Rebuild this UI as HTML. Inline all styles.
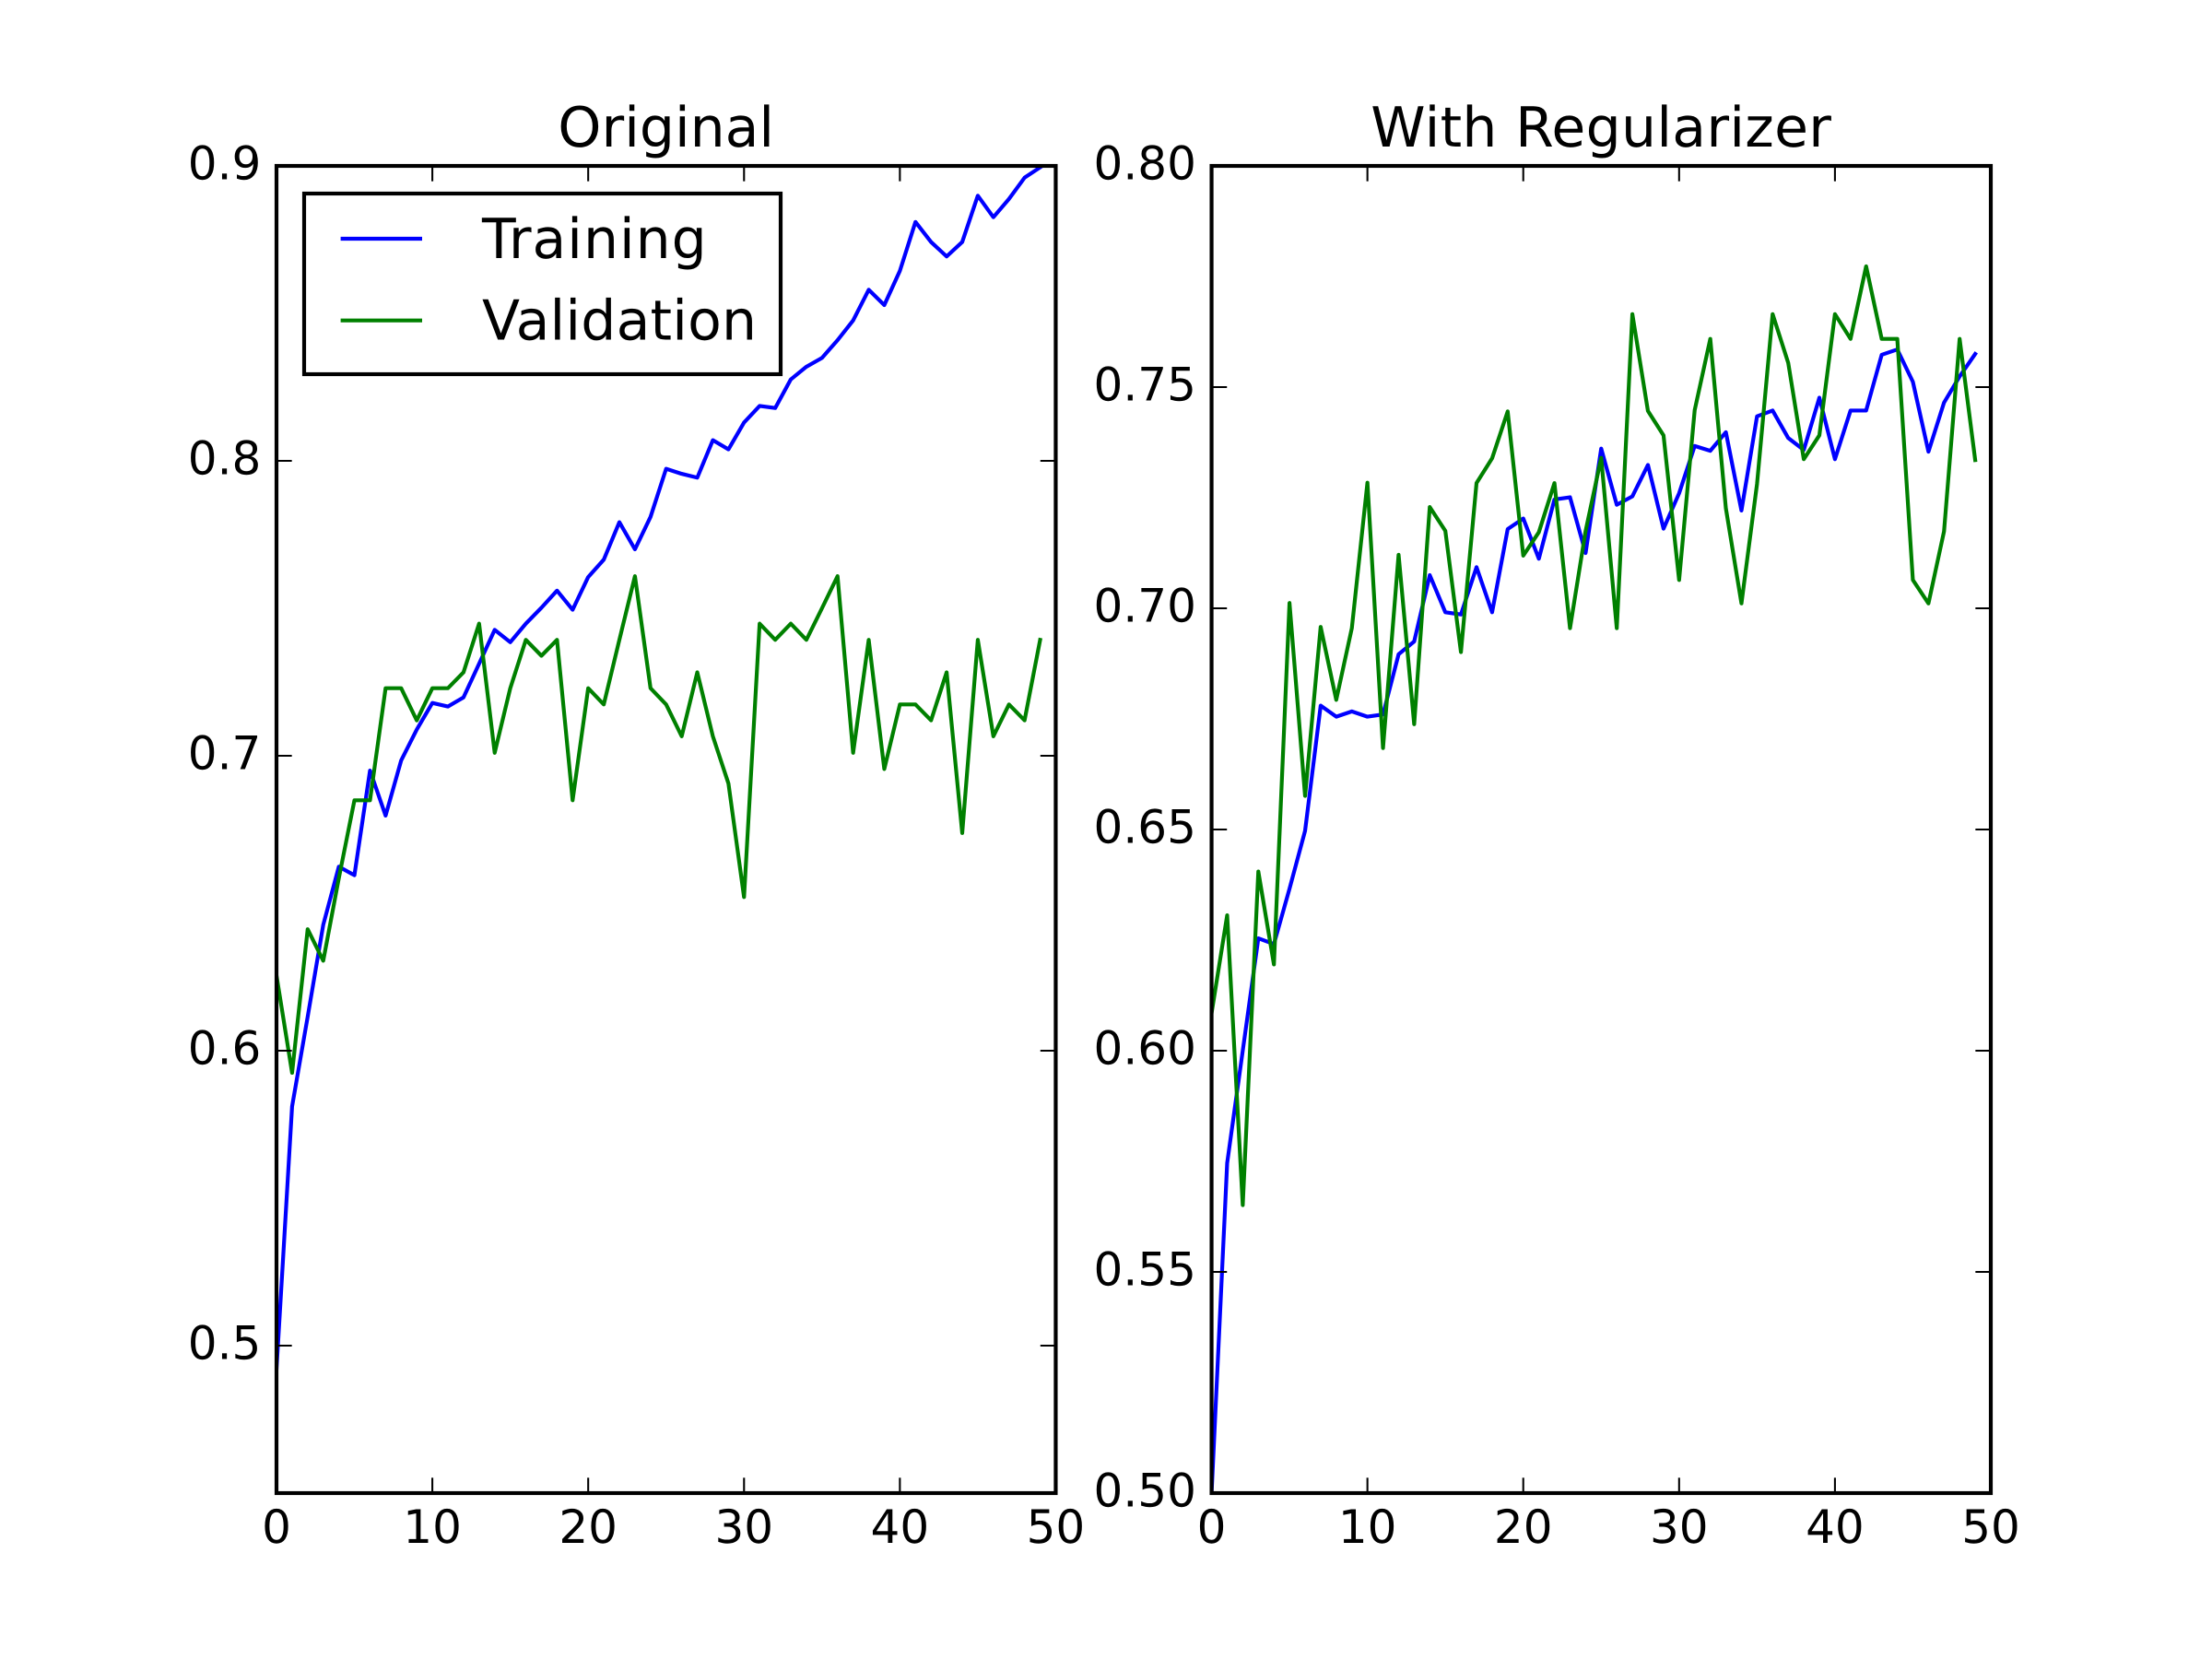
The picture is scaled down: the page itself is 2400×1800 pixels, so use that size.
<!DOCTYPE html>
<html lang="en">
<head>
<meta charset="utf-8">
<title>Original vs With Regularizer</title>
<style>
html,body{margin:0;padding:0;background:#fff;width:2400px;height:1800px;overflow:hidden}
svg{display:block}
text{font-family:"DejaVu Sans",sans-serif;fill:#000;text-rendering:geometricPrecision}
.title,.legend-text{font-size:60px}
.tick-label{font-size:50px}
</style>
</head>
<body>
<svg id="figure" xmlns="http://www.w3.org/2000/svg" width="2400" height="1800" viewBox="0 0 2400 1800">
  <rect x="0" y="0" width="2400" height="1800" fill="#fff"/>
  <defs>
    <clipPath id="clip-left"><rect x="300" y="180" width="845.45" height="1440"/></clipPath>
    <clipPath id="clip-right"><rect x="1314.55" y="180" width="845.45" height="1440"/></clipPath>
  </defs>
  <g id="panel-left"></g>
  <g id="panel-right"></g>
  <text class="title" x="722.7" y="159" text-anchor="middle">Original</text>
  <text class="title" x="1737.3" y="159" text-anchor="middle" letter-spacing="0.3">With Regularizer</text>
  <g>
    <rect x="330" y="210" width="517" height="196" fill="#fff" stroke="#000" stroke-width="4.17"/>
    <line x1="369.6" y1="259" x2="458" y2="259" stroke="#0000ff" stroke-width="4.17"/>
    <text class="legend-text" x="523" y="280" letter-spacing="1">Training</text>
    <line x1="369.6" y1="347.7" x2="458" y2="347.7" stroke="#008000" stroke-width="4.17"/>
    <text class="legend-text" x="523" y="368.7" letter-spacing="0.2">Validation</text>
  </g>
</svg>
<script>
const xTicks = [0, 10, 20, 30, 40, 50];
const xTickLabels = ["0", "10", "20", "30", "40", "50"];
const xDomain = [0, 50];

const originalYDomain = [0.45, 0.9];
const originalYTicks = [0.5, 0.6, 0.7, 0.8, 0.9];
const originalYTickLabels = ["0.5", "0.6", "0.7", "0.8", "0.9"];
const originalTraining = [0.492,0.5811,0.6115,0.6427,0.6624,0.6595,0.695,0.6797,0.6984,0.7089,0.7179,0.7167,0.7198,0.7312,0.7427,0.7385,0.7448,0.7502,0.756,0.7495,0.7606,0.7665,0.7792,0.77,0.781,0.7973,0.7956,0.7943,0.807,0.8039,0.813,0.8186,0.8179,0.8276,0.8319,0.8349,0.8409,0.8476,0.858,0.8528,0.8644,0.881,0.8742,0.8693,0.8742,0.8899,0.8826,0.8888,0.896,0.8995];
const originalValidation = [0.6255,0.5925,0.6412,0.6305,0.6585,0.6849,0.6849,0.7229,0.7229,0.712,0.7229,0.7229,0.7283,0.7448,0.701,0.7229,0.7393,0.7339,0.7393,0.6849,0.7229,0.7174,0.7393,0.7609,0.7229,0.7174,0.7066,0.7283,0.7066,0.6906,0.6521,0.7448,0.7393,0.7448,0.7393,0.75,0.7609,0.701,0.7393,0.6955,0.7174,0.7174,0.712,0.7283,0.6738,0.7393,0.7066,0.7174,0.712,0.7393];

const regularizedYDomain = [0.5, 0.8];
const regularizedYTicks = [0.5, 0.55, 0.6, 0.65, 0.7, 0.75, 0.8];
const regularizedYTickLabels = ["0.50", "0.55", "0.60", "0.65", "0.70", "0.75", "0.80"];
const regularizedTraining = [0.5,0.5746,0.6,0.6254,0.6241,0.6366,0.6497,0.678,0.6755,0.6767,0.6755,0.676,0.6896,0.6925,0.7075,0.6991,0.6986,0.7093,0.6991,0.7179,0.7203,0.7112,0.7246,0.7251,0.7125,0.7361,0.7234,0.7253,0.7324,0.718,0.726,0.7367,0.7356,0.7398,0.7221,0.7434,0.7447,0.7385,0.7358,0.7476,0.7337,0.7447,0.7447,0.7573,0.7585,0.7512,0.7354,0.7465,0.7524,0.7575];
const regularizedValidation = [0.6085,0.6306,0.5651,0.6405,0.6195,0.7012,0.6576,0.6958,0.6793,0.6955,0.7284,0.6684,0.7121,0.6738,0.7229,0.7175,0.6901,0.7283,0.7339,0.7445,0.7119,0.7172,0.7283,0.6955,0.7175,0.734,0.6955,0.7665,0.7446,0.7391,0.7064,0.7448,0.7609,0.7226,0.7011,0.7281,0.7665,0.7555,0.7337,0.7391,0.7665,0.7609,0.7773,0.7609,0.7609,0.7064,0.7011,0.7174,0.7609,0.7335];

const NS = "http://www.w3.org/2000/svg";
const TOP = 180, BOTTOM = 1620, TICK = 16.67, PAD = 16.67;

function drawPanel(groupId, clipId, left, right, yDomain, yTicks, yLabels, training, validation) {
  const g = document.getElementById(groupId);
  const sx = v => left + (v - xDomain[0]) / (xDomain[1] - xDomain[0]) * (right - left);
  const sy = v => BOTTOM - (v - yDomain[0]) / (yDomain[1] - yDomain[0]) * (BOTTOM - TOP);

  const plotLine = (values, color, name) => {
    const p = document.createElementNS(NS, "polyline");
    p.setAttribute("points", values.map((v, i) => sx(i).toFixed(2) + "," + sy(v).toFixed(2)).join(" "));
    p.setAttribute("fill", "none");
    p.setAttribute("stroke", color);
    p.setAttribute("stroke-width", "4.17");
    p.setAttribute("stroke-linejoin", "round");
    p.setAttribute("stroke-linecap", "square");
    p.setAttribute("clip-path", "url(#" + clipId + ")");
    
    
    g.appendChild(p);
  };
  plotLine(training, "#0000ff", "training-line");
  plotLine(validation, "#008000", "validation-line");

  const tickMark = (x1, y1, x2, y2, name) => {
    const l = document.createElementNS(NS, "line");
    l.setAttribute("x1", x1);
    l.setAttribute("y1", y1);
    l.setAttribute("x2", x2);
    l.setAttribute("y2", y2);
    l.setAttribute("stroke", "#000");
    l.setAttribute("stroke-width", "2.08");
    
    
    g.appendChild(l);
  };

  xTicks.forEach((t, i) => {
    const x = sx(t);
    tickMark(x, BOTTOM, x, BOTTOM - TICK, "x-tick-bottom");
    tickMark(x, TOP, x, TOP + TICK, "x-tick-top");
    const label = document.createElementNS(NS, "text");
    label.setAttribute("class", "tick-label");
    label.setAttribute("x", x);
    label.setAttribute("y", 1674);
    label.setAttribute("text-anchor", "middle");
    
    
    label.textContent = xTickLabels[i];
    g.appendChild(label);
  });

  yTicks.forEach((t, i) => {
    const y = sy(t);
    tickMark(left, y, left + TICK, y, "y-tick-left");
    tickMark(right, y, right - TICK, y, "y-tick-right");
    const label = document.createElementNS(NS, "text");
    label.setAttribute("class", "tick-label");
    label.setAttribute("x", left - PAD);
    label.setAttribute("y", y + 14.5);
    label.setAttribute("text-anchor", "end");
    
    
    label.textContent = yLabels[i];
    g.appendChild(label);
  });

  const frame = document.createElementNS(NS, "rect");
  frame.setAttribute("x", left);
  frame.setAttribute("y", TOP);
  frame.setAttribute("width", right - left);
  frame.setAttribute("height", BOTTOM - TOP);
  frame.setAttribute("fill", "none");
  frame.setAttribute("stroke", "#000");
  frame.setAttribute("stroke-width", "4.17");
  
  
  g.appendChild(frame);
}

drawPanel("panel-left", "clip-left", 300, 1145.45, originalYDomain, originalYTicks, originalYTickLabels, originalTraining, originalValidation);
drawPanel("panel-right", "clip-right", 1314.55, 2160, regularizedYDomain, regularizedYTicks, regularizedYTickLabels, regularizedTraining, regularizedValidation);
</script>
</body>
</html>
